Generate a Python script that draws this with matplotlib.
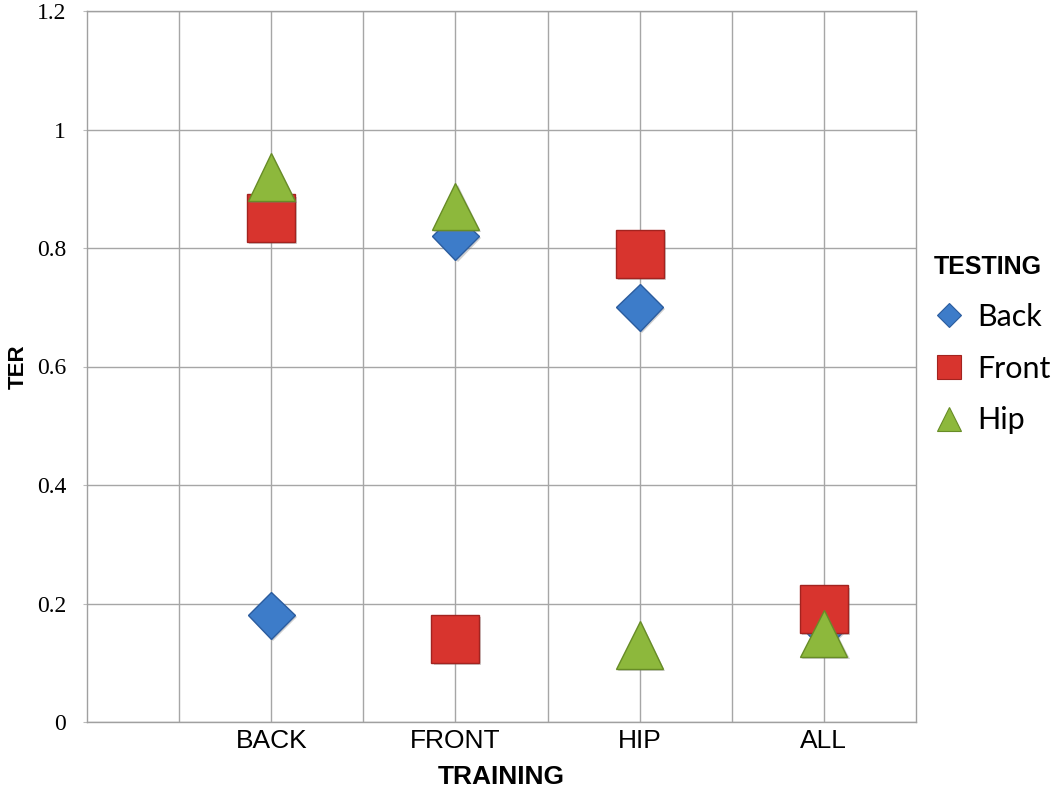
import matplotlib
matplotlib.use("Agg")
import matplotlib.pyplot as plt
import matplotlib.patheffects as pe
from matplotlib.lines import Line2D

# training position on the x axis
training = ['BACK', 'FRONT', 'HIP', 'ALL']
xpos = [1, 2, 3, 4]

# TER per testing position
ter_back = [0.18, 0.82, 0.70, 0.16]
ter_front = [0.85, 0.14, 0.79, 0.19]
ter_hip = [0.92, 0.87, 0.13, 0.15]

series = [
    ('Back', ter_back, 'D', 23.8, '#3D7CC9', '#2B5C9E'),
    ('Front', ter_front, 's', 34.5, '#D8342E', '#A3231F'),
    ('Hip', ter_hip, '^', 34.0, '#8DB83C', '#678C26'),
]

fig = plt.figure(figsize=(10.62, 7.9), dpi=100)
ax = fig.add_axes([87 / 1062, 1 - 722 / 790, (916 - 87) / 1062, (722 - 11) / 790])

shadow = [pe.SimplePatchShadow(offset=(1.5, -1.5), shadow_rgbFace='#777777', alpha=0.35),
          pe.Normal()]

handles = []
for name, vals, mk, ms, fc, ec in series:
    ax.plot(xpos, vals, linestyle='none', marker=mk, markersize=ms,
            markerfacecolor=fc, markeredgecolor=ec, markeredgewidth=1.0,
            path_effects=shadow, zorder=3)
    handles.append(Line2D([], [], linestyle='none', marker=mk,
                          markersize=ms * 0.5, markerfacecolor=fc,
                          markeredgecolor=ec, markeredgewidth=0.8))

ax.set_xlim(0, 4.5)
ax.set_ylim(0, 1.2)
ax.set_xticks(xpos)
ax.set_xticklabels(training, family='Liberation Sans', fontsize=19)
ax.set_xticks([0.5, 1.5, 2.5, 3.5], minor=True)
ax.set_yticks([0, 0.2, 0.4, 0.6, 0.8, 1.0, 1.2])
ax.set_yticklabels(['0', '0.2', '0.4', '0.6', '0.8', '1', '1.2'],
                   family='Liberation Serif', fontsize=17)
ax.tick_params(axis='x', which='both', length=0, pad=5)
ax.tick_params(axis='y', length=3, color='#BBBBBB', pad=12)

ax.grid(True, which='both', color='#A6A6A6', linewidth=1.0)
ax.set_axisbelow(True)
for sp in ax.spines.values():
    sp.set_color('#A0A0A0')
    sp.set_linewidth(1.0)

ax.set_xlabel('TRAINING', family='Liberation Sans', fontsize=19,
              fontweight='bold', labelpad=9)
ax.set_ylabel('TER', family='Liberation Sans', fontsize=16,
              fontweight='bold')
ax.yaxis.set_label_coords(-58 / 829, 0.5)

leg = ax.legend(handles, [s[0] for s in series], title='TESTING',
                loc='upper left', bbox_to_anchor=(934 / 1062, 1 - 255 / 790),
                bbox_transform=fig.transFigure, frameon=False,
                prop={'family': 'Lato', 'size': 22},
                title_fontproperties={'family': 'Liberation Sans', 'size': 18,
                                      'weight': 'bold'},
                alignment='left', handlelength=1.0, handletextpad=0.4,
                labelspacing=0.78, borderaxespad=0, borderpad=0)

fig.savefig('out.png', dpi=100)
